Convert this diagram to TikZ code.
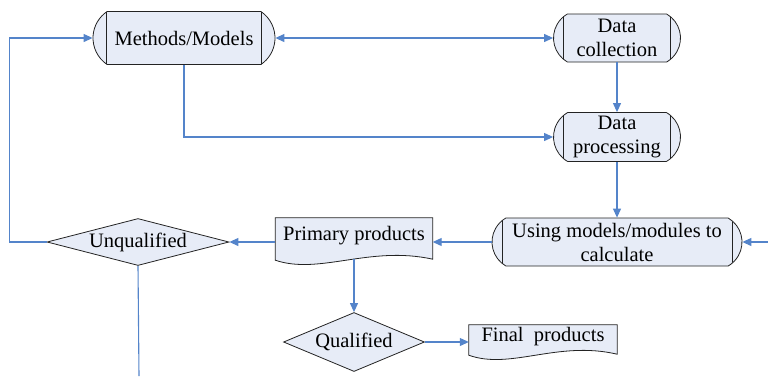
\documentclass[tikz,border=0pt]{standalone}
\usepackage{fontspec}
\setmainfont{Liberation Serif}
\newfontfamily\diagfont{Liberation Serif}
\usetikzlibrary{shapes.misc, shapes.geometric, arrows.meta, backgrounds, calc}

\definecolor{boxfill}{RGB}{231,236,247}
\definecolor{flowblue}{RGB}{84,132,202}
\definecolor{edgegray}{RGB}{35,35,35}

\tikzset{
  every node/.style={font=\diagfont\fontsize{20.5pt}{24pt}\selectfont},
  term/.style={rounded rectangle, rounded rectangle arc length=120, draw=edgegray, line width=0.8pt,
    fill=boxfill, align=center, inner xsep=2pt, inner ysep=0pt,
    path picture={\draw[edgegray, line width=0.8pt]
      ([xshift=14pt]path picture bounding box.north west) -- ([xshift=14pt]path picture bounding box.south west)
      ([xshift=-14pt]path picture bounding box.north east) -- ([xshift=-14pt]path picture bounding box.south east);}},
  check/.style={diamond, draw=edgegray, line width=0.8pt, fill=boxfill, inner sep=0pt},
  docbox/.style={rectangle, inner sep=0pt},
  docline/.style={draw=edgegray, line width=0.8pt, fill=boxfill},
  link/.style={flowblue, line width=1.1pt, >={Triangle[length=9pt,width=8pt]}}
}

\newcommand{\docshape}[1]{%
  \path[docline] (#1.north west) -- (#1.north east) -- ($(#1.south east)+(0,-5pt)$)
    .. controls ($(#1.south west)!0.6!(#1.south east)+(0,9pt)$) and ($(#1.south west)!0.28!(#1.south east)+(0,-21pt)$)
    .. ($(#1.south west)+(0,-6pt)$) -- cycle;}

\begin{document}
\begin{tikzpicture}
    \useasboundingbox (0,0) rectangle (768pt,-376pt);

    \node[term, rounded rectangle arc length=112, minimum width=186pt, minimum height=53pt] (meth) at (184pt,-38pt) {Methods/Models};
    \node[term, minimum width=131pt, minimum height=48pt, node distance=433pt, right of=meth] (coll) {Data\\collection};
    \node[term, minimum width=131pt, minimum height=49pt, node distance=99pt, below of=coll] (proc) {Data\\processing};
    \node[term, minimum width=254pt, minimum height=48pt, node distance=105pt, below of=proc] (calc) {Using models/modules to\\calculate};
    \node[docbox, minimum width=157pt, minimum height=36pt, node distance=263pt, left of=calc, yshift=6pt] (prim) {Primary products};
    \node[check, aspect=3.9, minimum width=182pt, minimum height=47pt, node distance=479pt, left of=calc] (unq) {Unqualified};
    \node[check, aspect=2.4, minimum width=141pt, minimum height=59pt, node distance=106pt, below of=prim] (qual) {Qualified};
    \node[docbox, minimum width=148pt, minimum height=24pt, node distance=189pt, right of=qual, yshift=5pt] (fin) {Final\ \ products};

    \begin{scope}[on background layer]
      \docshape{prim}
      \docshape{fin}
    \end{scope}

    \coordinate (rin) at (768pt,-242pt);
    \coordinate (ubot) at (139pt,-376pt);

    \draw[link, ->] (unq.west) -- ++(-37pt,0) |- (meth.west);
    \draw[link, <->] (meth.east) -- (coll.west);
    \draw[link, ->] (meth.south) |- (proc.west);
    \draw[link, ->] (coll.south) -- (proc.north);
    \draw[link, ->] (proc.south) -- (calc.north);
    \draw[link, ->] (rin) -- (calc.east);
    \draw[link, ->] (calc.west) -- (calc.west -| prim.east);
    \draw[link, ->] (unq.east -| prim.west) -- (unq.east);
    \draw[link, ->] ([yshift=-5pt]prim.south) -- (qual.north);
    \draw[link, ->] (qual.east) -- (qual.east -| fin.west);
    \draw[link] (unq.south) -- (ubot);
\end{tikzpicture}
\end{document}
